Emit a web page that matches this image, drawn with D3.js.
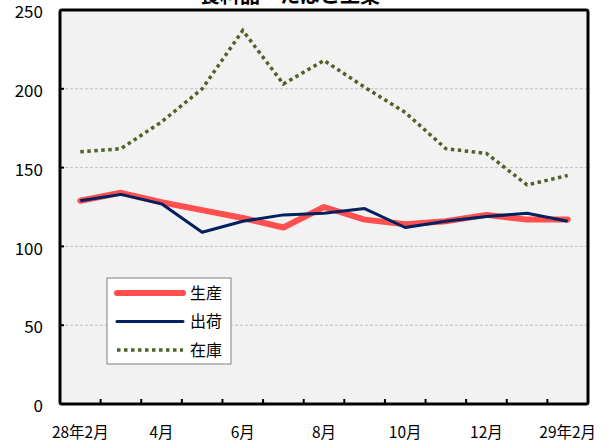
<!DOCTYPE html>
<html>
<head>
<meta charset="utf-8">
<script src="https://cdn.jsdelivr.net/npm/d3@7"></script>
<style>
  body { margin: 0; background: #fff; }
  text { font-family: "Noto Sans CJK JP", "Noto Sans", sans-serif; }
</style>
</head>
<body>
<script>
// data (index, 2010=100)
const months = ["28年2月","3月","4月","5月","6月","7月","8月","9月","10月","11月","12月","29年1月","29年2月"];
const tickLabels = ["28年2月","4月","6月","8月","10月","12月","29年2月"];
const production = [129, 134, 128, 123, 118, 112, 125, 117, 114, 116, 120, 117, 117];
const shipment   = [129, 133, 127, 109, 116, 120, 121, 124, 112, 116, 119, 121, 116];
const inventory  = [160, 162, 179, 200, 237, 203, 218, 201, 185, 162, 159, 139, 145];
const yTicks = [0, 50, 100, 150, 200, 250];

const margin = {top: 10, right: 23, bottom: 43, left: 60};
const W = 611, H = 447;
const w = W - margin.left - margin.right;
const h = H - margin.top - margin.bottom;

let svg = d3.select("body").append("svg")
    .attr("width", W)
    .attr("height", H);

// title (mostly cut off at the top, like the original)
svg.append("text")
    .attr("x", 290)
    .attr("y", 3)
    .attr("text-anchor", "middle")
    .style("font-size", "20px")
    .style("font-weight", "bold")
    .text("食料品・たばこ工業");

let g = svg.append("g")
    .attr("transform", "translate(" + margin.left + "," + margin.top + ")");

const x = d3.scaleBand().domain(months).range([0, w]);
const y = d3.scaleLinear().domain([0, 250]).range([h, 0]);
const cx = d => x(d) + x.bandwidth() / 2;

// plot background
g.append("rect")
    .attr("width", w).attr("height", h)
    .attr("fill", "#f2f2f2");

// gridlines
g.selectAll(".grid")
    .data(yTicks.filter(t => t > 0 && t < 250))
    .enter().append("line")
    .attr("x1", 0).attr("x2", w)
    .attr("y1", d => y(d)).attr("y2", d => y(d))
    .attr("stroke", "#c0c0c0")
    .attr("stroke-width", 1)
    .attr("stroke-dasharray", "3,2");

// y axis ticks + labels
g.selectAll(".ytick")
    .data(yTicks)
    .enter().append("line")
    .attr("x1", 0).attr("x2", 4)
    .attr("y1", d => y(d)).attr("y2", d => y(d))
    .attr("stroke", "#000").attr("stroke-width", 2);

g.selectAll(".ylab")
    .data(yTicks)
    .enter().append("text")
    .attr("x", -17)
    .attr("y", d => y(d) + 2)
    .attr("dy", "0.36em")
    .attr("text-anchor", "end")
    .style("font-size", "17px")
    .text(d => d);

// x axis ticks between categories
g.selectAll(".xtick")
    .data(months.slice(1))
    .enter().append("line")
    .attr("x1", d => x(d)).attr("x2", d => x(d))
    .attr("y1", h).attr("y2", h - 5)
    .attr("stroke", "#000").attr("stroke-width", 2);

g.selectAll(".xlab")
    .data(tickLabels.map((t, i) => ({label: t, m: months[i * 2]})))
    .enter().append("text")
    .attr("x", d => cx(d.m))
    .attr("y", h + 34)
    .attr("text-anchor", "middle")
    .style("font-size", "15.5px")
    .text(d => d.label);

// series lines
const line = d3.line().x((d, i) => cx(months[i])).y(d => y(d));

g.append("path")
    .datum(production)
    .attr("d", line)
    .attr("fill", "none")
    .attr("stroke", "#ff4f4f")
    .attr("stroke-width", 6)
    .attr("stroke-linejoin", "round")
    .attr("stroke-linecap", "round");

g.append("path")
    .datum(shipment)
    .attr("d", line)
    .attr("fill", "none")
    .attr("stroke", "#002060")
    .attr("stroke-width", 3)
    .attr("stroke-linejoin", "round");

g.append("path")
    .datum(inventory)
    .attr("d", line)
    .attr("fill", "none")
    .attr("stroke", "#4f6228")
    .attr("stroke-width", 3.5)
    .attr("stroke-dasharray", "3.5,3.5");

// frame
g.append("rect")
    .attr("width", w).attr("height", h)
    .attr("fill", "none")
    .attr("stroke", "#000")
    .attr("stroke-width", 3)
    .attr("rx", 2);

// legend
const legend = [
    {name: "生産", color: "#ff4f4f", width: 6, dash: null},
    {name: "出荷", color: "#002060", width: 3, dash: null},
    {name: "在庫", color: "#4f6228", width: 3.5, dash: "3.5,3.5"}
];
let lg = svg.append("g").attr("transform", "translate(107,278)");
lg.append("rect")
    .attr("width", 124).attr("height", 86)
    .attr("fill", "#fff")
    .attr("stroke", "#808080")
    .attr("stroke-width", 1);

let items = lg.selectAll(".item")
    .data(legend)
    .enter().append("g")
    .attr("transform", (d, i) => "translate(0," + (15 + i * 28.5) + ")");

items.append("line")
    .attr("x1", 10).attr("x2", 76)
    .attr("stroke", d => d.color)
    .attr("stroke-width", d => d.width)
    .attr("stroke-linecap", d => d.dash ? "butt" : "round")
    .attr("stroke-dasharray", d => d.dash);

items.append("text")
    .attr("x", 83)
    .attr("dy", "0.36em")
    .style("font-size", "16px")
    .text(d => d.name);
</script>
</body>
</html>
